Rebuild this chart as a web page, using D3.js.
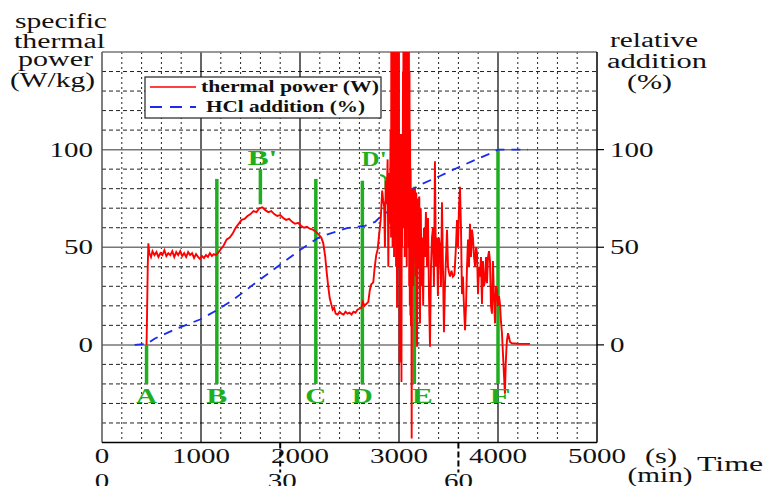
<!DOCTYPE html>
<html>
<head>
<meta charset="utf-8">
<script src="https://cdn.jsdelivr.net/npm/d3@7"></script>
<style>
body { margin: 0; background: #fff; }
text { font-family: "Liberation Serif", "Times New Roman", serif; }
</style>
</head>
<body>
<div id="chart"></div>
<script>
// thermal power (W/kg) against time (s)
var thermalPower = [
  [450,0],[455,15],[462,40],[468,52],[478,47],[495,45],[510,48],[530,46],[550,47.5],[570,45],[590,47],[610,46],
  [630,48.5],[650,45.5],[670,47],[690,46],[710,48],[730,45],[750,47.5],[770,46],[790,48],[810,45.5],[830,47],
  [850,45],[870,47.5],[890,46],[910,47],[930,44.5],[950,46.5],[970,45],[990,44],[1010,45.5],[1030,44.5],
  [1050,46],[1070,45],[1090,47],[1110,45.5],[1130,46.5],[1150,46],[1170,47],
  [1200,49],[1230,51],[1260,54],[1290,55],[1320,57],[1350,60],[1380,62],[1410,64],[1440,64.5],[1470,66],
  [1500,67],[1530,68.5],[1560,68],[1590,70],[1620,70.5],[1650,69],[1680,68],[1710,68.5],[1740,67],[1770,66],
  [1800,66.5],[1830,65],[1860,64],[1890,64.5],[1920,63],[1950,62],[1980,62.5],[2010,61],[2040,60],[2070,60.5],
  [2100,59.5],[2130,59],[2160,58],[2190,56.5],[2215,55],[2235,52],[2255,45],[2270,37],[2285,30],[2300,24],
  [2315,21],[2330,18],[2345,19],[2360,16],[2380,15.5],[2400,17],[2420,16],[2440,15.5],[2460,17],[2480,16],
  [2500,16.5],[2520,15.5],[2540,17],[2560,16.5],[2580,18],[2600,18.5],[2620,19],[2635,22],[2650,20],[2670,21],
  [2690,22],[2705,28],[2720,31],[2740,32],[2755,40],[2770,46],[2785,49],[2800,57],[2815,64],[2830,79],
  [2840,74],[2850,71],[2858,50],[2866,84],[2875,72],[2885,95],[2892,40],[2900,88],[2908,62],[2915,110],
  [2920,55],[2922,150],[2925,60],[2927,175],[2930,70],[2932,175],[2935,50],[2937,175],[2940,85],[2942,175],
  [2945,60],[2947,175],[2950,45],[2952,170],[2955,95],[2957,175],[2960,55],[2962,175],[2965,80],[2967,175],
  [2970,40],[2972,165],[2975,60],[2977,150],[2980,19],[2982,140],[2985,45],[2987,160],[2990,50],[2992,175],
  [2995,70],[2997,150],[3000,40],[3003,108],[3006,-9],[3009,100],[3012,30],[3015,105],[3018,45],[3021,108],
  [3025,-19],[3028,90],[3031,50],[3034,108],[3037,60],[3040,140],[3043,70],[3045,175],[3048,60],[3050,175],
  [3053,85],[3055,175],[3058,45],[3060,175],[3063,90],[3065,175],[3068,55],[3070,175],[3073,80],[3075,175],
  [3078,40],[3080,175],[3083,95],[3085,175],[3088,60],[3090,175],[3093,70],[3095,175],[3098,50],[3100,165],
  [3103,30],[3106,140],[3109,20],[3112,110],[3115,15],[3118,90],[3121,10],[3124,70],[3128,-48],[3132,45],
  [3138,80],[3145,30],[3150,75],
  [3160,80],[3168,35],[3175,78],[3182,-1],[3190,75],[3198,40],[3205,76],[3212,11],[3220,70],[3228,30],
  [3236,55],[3244,20],[3252,60],[3262,45],[3272,68],[3283,40],[3293,65],[3303,25],[3313,-1],[3323,40],
  [3333,55],[3343,60],[3353,30],[3363,94],[3373,40],[3383,55],[3393,25],[3403,55],[3414,50],[3424,30],
  [3434,73],[3444,40],[3454,6.5],[3464,30],[3475,45],[3485,59],[3495,40],[3505,37],[3515,35],[3530,38],
  [3545,35],[3560,36],[3575,50],[3586,64],[3596,50],[3606,70],[3616,81],[3626,60],[3636,26],[3646,35],
  [3656,20],[3667,7.5],[3677,20],[3687,40],[3697,54],[3707,40],[3717,62],[3727,45],[3737,59],[3747,55],
  [3758,45],[3768,40],[3778,50],[3788,47],[3798,26],[3808,40],[3818,35],[3828,45],[3838,21],[3848,43],
  [3858,30],[3869,33],[3879,45],[3889,31.6],[3899,45],[3909,48],[3919,43],[3929,20],[3939,16],[3949,43],
  [3959,25],[3970,11],[3980,30],[3990,28],[4000,20],[4010,25],[4020,21],[4030,12],[4040,6],[4050,-4.5],
  [4060,-15],[4070,-25],[4078,-10],[4085,-2],[4091,2.4],[4101,6],[4111,4],[4121,1.5],[4141,0.8],[4200,0.6],[4323,0.5]
];

// relative HCl addition (%) against time (s)
var hclAddition = [
  [330,0],[455,0.5],[535,3.3],[757,8.4],[990,13],[1162,17.8],[1323,23],[1565,32.3],[2000,48.6],[2202,55.4],
  [2475,59.8],[2657,61],[2758,63],[2808,65.5],[2909,69],[3010,75.5],[3212,82],[3414,86.5],[3586,90.6],
  [3768,94.7],[3919,98],[4000,100],[4303,100]
];

// green event markers
var markerNames = ["A", "B", "C", "D", "E", "F"];
var markerTimes = [450, 1160, 2160, 2630, 3155, 4000];
var markerTops = [0, 85, 85, 84, 81, 100];
var markerBottom = -20;
var peakNames = ["B'", "D'"];
var peakTimes = [1600, 2870];
var peakTops = [90, 86];
var peakBottoms = [72, 80];

var secTicks = [0, 1000, 2000, 3000, 4000, 5000];
var minTicks = [0, 30, 60];
var yTicks = [0, 50, 100];

var width = 767, height = 486;
var svg = d3.select("#chart").append("svg")
  .attr("width", width)
  .attr("height", height);

var x = d3.scaleLinear().domain([0, 5000]).range([102, 597]);
var xMin = d3.scaleLinear().domain([0, 5000 / 60]).range([102, 597]);
var y = d3.scaleLinear().domain([-50, 150]).range([442.5, 52]);

var green = "#1fae1f";

// text squeezed/stretched to the width seen in the picture
function label(txt, cx, base, size, w, opts) {
  opts = opts || {};
  var t = svg.append("text")
    .attr("x", opts.start ? cx : cx - w / 2)
    .attr("y", base)
    .attr("font-size", size)
    .attr("textLength", w)
    .attr("lengthAdjust", "spacingAndGlyphs")
    .attr("fill", opts.fill || "#111")
    .text(txt);
  if (opts.bold) t.attr("font-weight", "bold");
  return t;
}

// grid
var grid = svg.append("g");
grid.selectAll(".vminor")
  .data(d3.range(200, 5000, 200).filter(function(d) { return d % 1000 !== 0; }))
  .enter().append("line")
  .attr("x1", function(d) { return x(d); })
  .attr("x2", function(d) { return x(d); })
  .attr("y1", y(150)).attr("y2", y(-50))
  .attr("stroke", "#222").attr("stroke-width", 1)
  .attr("stroke-dasharray", "2,3");
grid.selectAll(".hminor")
  .data(d3.range(-40, 150, 10).filter(function(d) { return d % 50 !== 0; }))
  .enter().append("line")
  .attr("x1", x(0)).attr("x2", x(5000))
  .attr("y1", function(d) { return y(d); })
  .attr("y2", function(d) { return y(d); })
  .attr("stroke", "#222").attr("stroke-width", 1)
  .attr("stroke-dasharray", "4,3");
grid.selectAll(".vmajor")
  .data([1000, 2000, 3000, 4000])
  .enter().append("line")
  .attr("x1", function(d) { return x(d); })
  .attr("x2", function(d) { return x(d); })
  .attr("y1", y(150)).attr("y2", y(-50))
  .attr("stroke", "#000").attr("stroke-width", 1.2);
grid.selectAll(".hmajor")
  .data(yTicks)
  .enter().append("line")
  .attr("x1", x(0)).attr("x2", x(5000))
  .attr("y1", function(d) { return y(d); })
  .attr("y2", function(d) { return y(d); })
  .attr("stroke", "#777").attr("stroke-width", 1.5);

// frame
svg.append("line").attr("x1", x(0)).attr("x2", x(5000)).attr("y1", y(150)).attr("y2", y(150))
  .attr("stroke", "#777").attr("stroke-width", 1.5);
svg.append("line").attr("x1", x(0)).attr("x2", x(0)).attr("y1", y(150)).attr("y2", y(-50))
  .attr("stroke", "#555").attr("stroke-width", 1.5);
svg.append("line").attr("x1", x(5000)).attr("x2", x(5000)).attr("y1", y(150)).attr("y2", y(-50))
  .attr("stroke", "#000").attr("stroke-width", 1.5);
svg.append("line").attr("x1", x(0)).attr("x2", x(5000)).attr("y1", y(-50)).attr("y2", y(-50))
  .attr("stroke", "#000").attr("stroke-width", 1.5);

// right ticks
svg.selectAll(".rtick").data(yTicks).enter().append("line")
  .attr("x1", x(5000)).attr("x2", x(5000) + 7)
  .attr("y1", function(d) { return y(d); })
  .attr("y2", function(d) { return y(d); })
  .attr("stroke", "#000").attr("stroke-width", 1.2);

// minute ticks below the axis
svg.selectAll(".mtick").data(minTicks.filter(function(d) { return d > 0; })).enter().append("line")
  .attr("x1", function(d) { return xMin(d); })
  .attr("x2", function(d) { return xMin(d); })
  .attr("y1", y(-50)).attr("y2", y(-50) + 30)
  .attr("stroke", "#000").attr("stroke-width", 2)
  .attr("stroke-dasharray", "6,3");

// clip for curves
svg.append("clipPath").attr("id", "plotclip").append("rect")
  .attr("x", x(0)).attr("y", y(150)).attr("width", x(5000) - x(0)).attr("height", y(-50) - y(150));

// green markers
svg.selectAll(".marker").data(markerTimes).enter().append("line")
  .attr("x1", function(d) { return x(d); })
  .attr("x2", function(d) { return x(d); })
  .attr("y1", function(d, i) { return y(markerTops[i]); })
  .attr("y2", y(markerBottom))
  .attr("stroke", green).attr("stroke-width", 3.5);
svg.selectAll(".peak").data(peakTimes).enter().append("line")
  .attr("x1", function(d) { return x(d); })
  .attr("x2", function(d) { return x(d); })
  .attr("y1", function(d, i) { return y(peakTops[i]); })
  .attr("y2", function(d, i) { return y(peakBottoms[i]); })
  .attr("stroke", green).attr("stroke-width", 3.5);
// hook from the D' label
svg.append("path")
  .attr("d", "M" + (x(peakTimes[1]) - 6) + "," + (y(peakTops[1]) - 2) +
             " Q" + x(peakTimes[1]) + "," + (y(peakTops[1]) - 1) + " " + x(peakTimes[1]) + "," + (y(peakTops[1]) + 4))
  .attr("fill", "none").attr("stroke", green).attr("stroke-width", 2);

// HCl addition
var line = d3.line()
  .x(function(d) { return x(d[0]); })
  .y(function(d) { return y(d[1]); });

svg.append("path")
  .datum(hclAddition)
  .attr("d", line)
  .attr("fill", "none")
  .attr("stroke", "#1a2bef")
  .attr("stroke-width", 1.8)
  .attr("stroke-dasharray", "9,7");

// thermal power
svg.append("path")
  .datum(thermalPower)
  .attr("clip-path", "url(#plotclip)")
  .attr("d", line)
  .attr("fill", "none")
  .attr("stroke", "#ff0000")
  .attr("stroke-width", 1.9)
  .attr("stroke-linejoin", "miter");

// marker labels
var labelShift = { "E": 8, "F": 2 };
markerNames.forEach(function(n, i) {
  label(n, x(markerTimes[i]) + (labelShift[n] || 0), 403, 20, 21, { fill: green, bold: true });
});
label(peakNames[0], x(peakTimes[0]) + 2, 165, 20, 30, { fill: green, bold: true });
label(peakNames[1], x(peakTimes[1]) - 12, 166, 20, 25, { fill: green, bold: true });

// legend
var lg = svg.append("g");
lg.append("rect").attr("x", 145).attr("y", 77).attr("width", 236).attr("height", 41)
  .attr("fill", "#fff").attr("stroke", "#222").attr("stroke-width", 1.2);
lg.append("line").attr("x1", 150).attr("x2", 196).attr("y1", 87).attr("y2", 87)
  .attr("stroke", "#ff0000").attr("stroke-width", 1.5);
lg.append("line").attr("x1", 150).attr("x2", 196).attr("y1", 107).attr("y2", 107)
  .attr("stroke", "#1a2bef").attr("stroke-width", 1.8).attr("stroke-dasharray", "12,8");
label("thermal power (W)", 201, 92, 16, 178, { start: true, bold: true });
label("HCl addition (%)", 206, 112, 16, 159, { start: true, bold: true });

// left and right axis labels
yTicks.forEach(function(v) {
  var s = String(v), w = 14.5 * s.length;
  label(s, 93 - w / 2, y(v) + 7, 20, w);
  label(s, 610 + w / 2, y(v) + 7, 20, w);
});

// bottom labels
secTicks.forEach(function(v) {
  var s = String(v), w = 14.5 * s.length;
  label(s, x(v), 463, 20, w);
});
minTicks.forEach(function(v) {
  var s = String(v), w = 14.5 * s.length;
  label(s, xMin(v) + (v === 30 ? 2 : 0), 488, 20, w);
});
label("(s)", 661, 463, 20, 32);
label("(min)", 660, 482, 20, 65);
label("Time", 730, 471, 22, 66);

// axis titles
label("specific", 61, 28, 20, 92);
label("thermal", 59.5, 48, 20, 91);
label("power", 55.5, 66, 20, 75);
label("(W/kg)", 52.5, 87, 20, 85);
label("relative", 654, 47, 20, 88);
label("addition", 657, 68, 20, 100);
label("(%)", 649.5, 89, 20, 45);
</script>
</body>
</html>
